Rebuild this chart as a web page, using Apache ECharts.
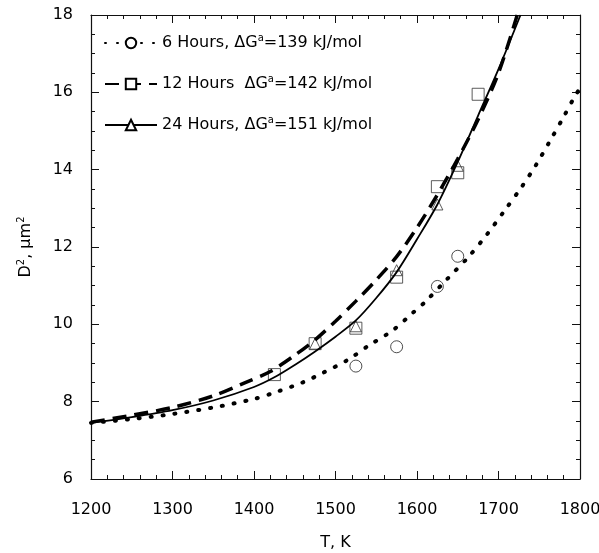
<!DOCTYPE html>
<html>
<head>
<meta charset="utf-8">
<script src="https://cdn.jsdelivr.net/npm/echarts@6/dist/echarts.min.js"></script>
<style>
  html, body { margin: 0; padding: 0; background: #fff; }
  #chart { width: 599px; height: 553px; }
</style>
</head>
<body>
<div id="chart"></div>
<script>
// measured points
const ptT6 = [1525, 1575, 1625, 1650];
const ptD6 = [8.92, 9.42, 10.98, 11.76];
const ptT12 = [1425, 1475, 1525, 1575, 1625, 1650, 1675];
const ptD12 = [8.7, 9.5, 9.9, 11.22, 13.56, 13.92, 15.95];
const ptT24 = [1475, 1525, 1575, 1625, 1650];
const ptD24 = [9.5, 9.95, 11.4, 13.1, 14.1];

// fitted curves
const fitT6 = [1200, 1250, 1300, 1350, 1400, 1430, 1460, 1485, 1515, 1540, 1570, 1595, 1610, 1637, 1663, 1686, 1707, 1728, 1746, 1762, 1779, 1794, 1800];
const fitD6 = [7.45, 7.55, 7.68, 7.85, 8.07, 8.27, 8.5, 8.75, 9.08, 9.44, 9.84, 10.3, 10.58, 11.17, 11.74, 12.33, 12.93, 13.54, 14.12, 14.7, 15.33, 15.91, 16.1];
const fitT12 = [1200, 1250, 1300, 1350, 1390, 1420, 1450, 1475, 1500, 1525, 1550, 1575, 1600, 1625, 1650, 1675, 1700, 1723];
const fitD12 = [7.47, 7.65, 7.85, 8.15, 8.5, 8.78, 9.2, 9.6, 10.08, 10.6, 11.15, 11.75, 12.5, 13.35, 14.28, 15.3, 16.5, 18];
const fitT24 = [1200, 1250, 1300, 1350, 1400, 1425, 1450, 1475, 1500, 1525, 1550, 1575, 1600, 1625, 1650, 1675, 1700, 1727];
const fitD24 = [7.45, 7.6, 7.78, 8.03, 8.38, 8.63, 8.95, 9.3, 9.68, 10.1, 10.68, 11.35, 12.2, 13.1, 14.2, 15.4, 16.6, 18];

const legendNames = ['6 Hours,', '12 Hours ', '24 Hours,'];
const legendDG = ['139', '142', '151'];

const zip = (a, b) => a.map((v, i) => [v, b[i]]);
const font = 'DejaVu Sans, sans-serif';

const axisLine = { show: true, lineStyle: { color: '#111', width: 1.2 } };
const axisTick = { show: true, inside: true, length: 8, lineStyle: { color: '#111' } };
const minorX = { show: true, splitNumber: 5, length: 4, lineStyle: { color: '#111' } };
const minorY = { show: true, splitNumber: 4, length: 4, lineStyle: { color: '#111' } };

const option = {
  animation: false,
  backgroundColor: '#fff',
  textStyle: { fontFamily: font },
  grid: { left: 91, right: 19, top: 15, bottom: 74, outerBoundsMode: 'none', containLabel: false },
  legend: {
    orient: 'vertical',
    left: 99,
    top: 28,
    itemWidth: 52,
    itemHeight: 13,
    itemGap: 23,
    data: legendNames,
    formatter(name) {
      const i = legendNames.indexOf(name);
      return '{n|' + name + ' \u0394G}{s|a}{n|=' + legendDG[i] + ' kJ/mol}';
    },
    textStyle: {
      color: '#000',
      fontFamily: font,
      rich: {
        n: { fontSize: 16, color: '#000', fontFamily: font },
        s: { fontSize: 10, color: '#000', fontFamily: font, padding: [0, 0, 10, 0] },
      },
    },
  },
  xAxis: [
    {
      type: 'value', min: 1200, max: 1800, interval: 100,
      name: 'T, K', nameLocation: 'middle', nameGap: 56,
      nameTextStyle: { fontSize: 16, color: '#000', fontFamily: font },
      axisLabel: { fontSize: 16, color: '#000', margin: 23, fontFamily: font, formatter: (v) => String(v) },
      minorTick: minorX, axisLine, axisTick, splitLine: { show: false },
    },
    {
      type: 'value', position: 'top', min: 1200, max: 1800, interval: 100,
      axisLabel: { show: false },
      minorTick: minorX, axisLine, axisTick, splitLine: { show: false },
    },
  ],
  yAxis: [
    {
      type: 'value', min: 6, max: 18, interval: 2,
      name: '{n|D}{s|2}{n|, \u03bcm}{s|2}', nameLocation: 'middle', nameGap: 55, nameRotate: 90,
      nameTextStyle: {
        color: '#000', fontFamily: font,
        rich: {
          n: { fontSize: 16, color: '#000', fontFamily: font },
          s: { fontSize: 10, color: '#000', fontFamily: font, padding: [0, 0, 10, 0] },
        },
      },
      axisLabel: { fontSize: 16, color: '#000', margin: 18, fontFamily: font },
      minorTick: minorY, axisLine, axisTick, splitLine: { show: false },
    },
    {
      type: 'value', position: 'right', min: 6, max: 18, interval: 2,
      axisLabel: { show: false },
      minorTick: minorY, axisLine, axisTick, splitLine: { show: false },
    },
  ],
  series: [
    {
      name: legendNames[0], type: 'line', smooth: 0.3, showSymbol: false,
      symbol: 'emptyCircle', symbolSize: 11,
      itemStyle: { color: '#000', borderColor: '#000' },
      lineStyle: { color: '#000', width: 4, type: [1, 11], cap: 'round' },
      data: zip(fitT6, fitD6),
    },
    {
      name: legendNames[1], type: 'line', smooth: 0.3, showSymbol: false,
      symbol: 'rect', symbolSize: 10,
      itemStyle: { color: '#fff', borderColor: '#000', borderWidth: 1 },
      lineStyle: { color: '#000', width: 3.5, type: [14, 8] },
      data: zip(fitT12, fitD12),
    },
    {
      name: legendNames[2], type: 'line', smooth: 0.3, showSymbol: false,
      symbol: 'triangle', symbolSize: 11,
      itemStyle: { color: '#fff', borderColor: '#000', borderWidth: 1 },
      lineStyle: { color: '#000', width: 1.8 },
      data: zip(fitT24, fitD24),
    },
    {
      name: 'p6', type: 'scatter', symbol: 'circle', symbolSize: 12,
      itemStyle: { color: 'rgba(0,0,0,0)', borderColor: '#222', borderWidth: 1 },
      data: zip(ptT6, ptD6),
    },
    {
      name: 'p12', type: 'scatter', symbol: 'rect', symbolSize: 12,
      itemStyle: { color: 'rgba(0,0,0,0)', borderColor: '#333', borderWidth: 1 },
      data: zip(ptT12, ptD12),
    },
    {
      name: 'p24', type: 'scatter', symbol: 'triangle', symbolSize: 11,
      itemStyle: { color: 'rgba(0,0,0,0)', borderColor: '#333', borderWidth: 1 },
      data: zip(ptT24, ptD24),
    },
  ],
};

const myChart = echarts.init(document.getElementById('chart'));
myChart.setOption(option);
</script>
</body>
</html>
